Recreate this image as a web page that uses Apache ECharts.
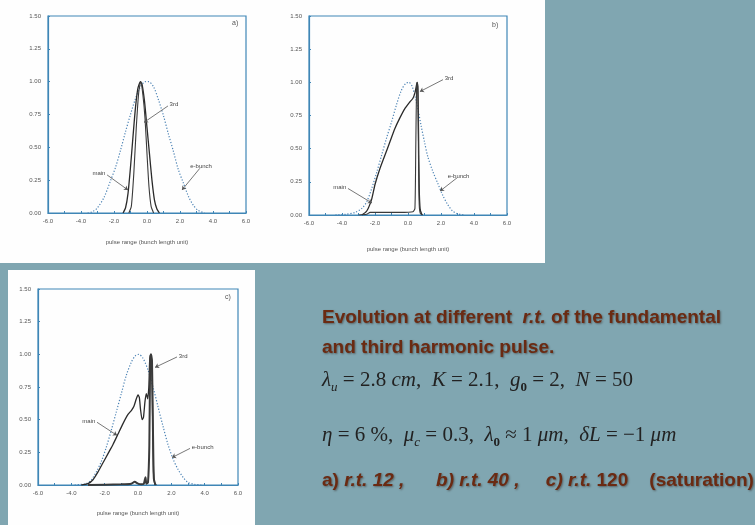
<!DOCTYPE html>
<html>
<head>
<meta charset="utf-8">
<script src="https://cdn.jsdelivr.net/npm/echarts@6.0.0/dist/echarts.min.js"></script>
<style>
  html, body { margin: 0; padding: 0; background: #80a6b1; }
  #chart { width: 755px; height: 525px; }
</style>
</head>
<body>
<div id="chart"></div>
<script>
// tick labels
const xTickLabels = ['-6.0', '-4.0', '-2.0', '0.0', '2.0', '4.0', '6.0']
const yTickLabels = ['0.00', '0.25', '0.50', '0.75', '1.00', '1.25', '1.50']

// a) r.t. 12  -- [pulse range, intensity]
const aBunch = [[-3.6, 0], [-3.3, 0.01], [-3.0, 0.04], [-2.6, 0.12], [-2.2, 0.25], [-1.9, 0.35], [-1.6, 0.48], [-1.3, 0.62], [-1.0, 0.75], [-0.7, 0.87], [-0.4, 0.96], [-0.1, 1.0], [0.1, 1.0], [0.4, 0.96], [0.7, 0.86], [1.0, 0.74], [1.3, 0.6], [1.6, 0.47], [1.9, 0.33], [2.2, 0.23], [2.5, 0.13], [2.8, 0.06], [3.1, 0.02], [3.5, 0]]
const aMain = [[-1.45, 0], [-1.3, 0.04], [-1.15, 0.15], [-1.0, 0.35], [-0.85, 0.58], [-0.7, 0.8], [-0.55, 0.95], [-0.4, 1.0], [-0.3, 0.98], [-0.15, 0.85], [0.0, 0.65], [0.15, 0.45], [0.3, 0.25], [0.45, 0.1], [0.6, 0.03], [0.75, 0]]
const aThird = [[-1.1, 0], [-0.95, 0.05], [-0.8, 0.3], [-0.65, 0.65], [-0.5, 0.92], [-0.38, 1.0], [-0.25, 0.9], [-0.12, 0.72], [0.0, 0.45], [0.12, 0.2], [0.25, 0.05], [0.4, 0]]

// b) r.t. 40
const bBunch = [[-4.4, 0], [-3.8, 0.005], [-3.2, 0.02], [-2.8, 0.05], [-2.5, 0.1], [-2.2, 0.2], [-1.9, 0.32], [-1.6, 0.45], [-1.3, 0.58], [-1.0, 0.7], [-0.7, 0.83], [-0.4, 0.94], [-0.15, 0.99], [0.05, 1.0], [0.25, 0.97], [0.45, 0.88], [0.6, 0.8], [0.8, 0.67], [1.0, 0.55], [1.2, 0.44], [1.5, 0.33], [1.8, 0.24], [2.1, 0.15], [2.4, 0.08], [2.7, 0.03], [3.0, 0.01], [3.4, 0]]
const bMain = [[-2.8, 0], [-2.5, 0.03], [-2.2, 0.12], [-2.0, 0.23], [-1.7, 0.35], [-1.4, 0.45], [-1.1, 0.55], [-0.8, 0.65], [-0.5, 0.73], [-0.2, 0.8], [0.1, 0.85], [0.3, 0.88], [0.42, 0.92], [0.5, 0.97], [0.55, 1.0], [0.6, 0.97], [0.64, 0.6], [0.68, 0.2], [0.74, 0.04], [0.85, 0]]
const bThird = [[-3.0, 0], [-2.5, 0.005], [-2.3, 0.02], [-1.5, 0.02], [-0.5, 0.02], [0.3, 0.025], [0.42, 0.05], [0.47, 0.5], [0.52, 0.97], [0.56, 1.0], [0.6, 0.9], [0.64, 0.4], [0.68, 0.08], [0.75, 0.01], [0.9, 0]]

// c) r.t. 120 (saturation)
const cBunch = [[-3.8, 0], [-3.4, 0.005], [-3.1, 0.01], [-2.8, 0.04], [-2.5, 0.1], [-2.2, 0.18], [-1.9, 0.29], [-1.6, 0.42], [-1.3, 0.56], [-1.0, 0.7], [-0.7, 0.84], [-0.4, 0.94], [-0.15, 0.99], [0.05, 1.0], [0.3, 0.97], [0.6, 0.88], [0.9, 0.75], [1.2, 0.6], [1.5, 0.45], [1.8, 0.31], [2.1, 0.2], [2.4, 0.12], [2.7, 0.06], [3.0, 0.02], [3.4, 0.005], [3.8, 0]]
const cMain = [[-3.4, 0], [-3.0, 0.01], [-2.7, 0.04], [-2.4, 0.1], [-2.1, 0.17], [-1.8, 0.24], [-1.5, 0.31], [-1.2, 0.39], [-0.9, 0.47], [-0.6, 0.54], [-0.4, 0.57], [-0.25, 0.6], [-0.1, 0.66], [0.0, 0.69], [0.08, 0.67], [0.15, 0.58], [0.25, 0.5], [0.33, 0.52], [0.42, 0.64], [0.5, 0.7], [0.58, 0.66], [0.65, 0.75], [0.7, 0.95], [0.76, 1.0], [0.82, 0.95], [0.88, 0.5], [0.93, 0.1], [1.0, 0.01], [1.1, 0]]
const cThird = [[-3.0, 0], [-1.0, 0.005], [-0.4, 0.01], [-0.2, 0.025], [0.0, 0.01], [0.2, 0.005], [0.35, 0.01], [0.45, 0.06], [0.5, 0.01], [0.6, 0.02], [0.68, 0.3], [0.73, 0.95], [0.78, 1.0], [0.84, 0.95], [0.9, 0.4], [0.95, 0.05], [1.05, 0]]

const frameColor = '#3f86b6'
const tickFont = '"Liberation Sans", Arial, sans-serif'

// 三个小图的位置
const grids = [
  { left: 48, top: 16, width: 198, height: 197 },
  { left: 309, top: 16, width: 198, height: 199 },
  { left: 38, top: 289, width: 200, height: 196 }
]
const nameGaps = [26, 31, 25]

// 注释：文字 + 箭头（数据坐标）
const notes = [
  { main: [[-2.42, 0.29], [-1.15, 0.175]], third: [[1.27, 0.815], [-0.18, 0.69]], bunch: [[3.2, 0.34], [2.12, 0.175]] },
  { main: [[-3.64, 0.2], [-2.18, 0.09]], third: [[2.12, 1.02], [0.72, 0.93]], bunch: [[2.97, 0.28], [1.94, 0.18]] },
  { main: [[-2.46, 0.48], [-1.26, 0.38]], third: [[2.34, 0.98], [1.02, 0.9]], bunch: [[3.12, 0.28], [2.04, 0.21]] }
]

const curves = [
  { bunch: aBunch, main: aMain, third: aThird },
  { bunch: bBunch, main: bMain, third: bThird },
  { bunch: cBunch, main: cMain, third: cThird }
]

function arrow (pair, text) {
  return {
    silent: true,
    animation: false,
    symbol: ['none', 'arrow'],
    symbolSize: 4,
    lineStyle: { color: '#555', width: 0.8, type: 'solid' },
    label: { show: true, position: 'start', distance: 2, formatter: text, fontSize: 6, color: '#444', fontFamily: tickFont },
    emphasis: { disabled: true },
    data: [[{ coord: pair[0] }, { coord: pair[1] }]]
  }
}

const xAxes = grids.map((g, i) => ({
  type: 'value', gridIndex: i, min: -6, max: 6, interval: 2,
  name: 'pulse range (bunch length unit)', nameLocation: 'middle', nameGap: nameGaps[i],
  nameTextStyle: { fontSize: 6, color: '#555', fontFamily: tickFont },
  axisLine: { onZero: false, lineStyle: { color: frameColor, width: 1.2 } },
  axisTick: { inside: true, length: 2, lineStyle: { color: frameColor } },
  minorTick: { show: true, splitNumber: 2, length: 2, lineStyle: { color: frameColor } },
  splitLine: { show: false },
  axisLabel: { fontSize: 6, color: '#555', margin: 5, fontFamily: tickFont, formatter: v => xTickLabels[Math.round((v + 6) / 2)] }
}))

const yAxes = grids.map((g, i) => ({
  type: 'value', gridIndex: i, min: 0, max: 1.5, interval: 0.25,
  axisLine: { show: true, onZero: false, lineStyle: { color: frameColor, width: 1.2 } },
  axisTick: { show: true, inside: true, length: 2, lineStyle: { color: frameColor } },
  splitLine: { show: false },
  axisLabel: { fontSize: 6, color: '#555', margin: 7, fontFamily: tickFont, formatter: v => yTickLabels[Math.round(v / 0.25)] }
}))

const series = []
curves.forEach((c, i) => {
  series.push({
    name: 'e-bunch', type: 'line', xAxisIndex: i, yAxisIndex: i, data: c.bunch,
    smooth: 0.3, showSymbol: false, lineStyle: { color: '#4b82b4', width: 1.2, type: [1.2, 1.8] },
    markLine: arrow(notes[i].bunch, 'e-bunch')
  })
  series.push({
    name: 'main', type: 'line', xAxisIndex: i, yAxisIndex: i, data: c.main,
    smooth: 0.2, showSymbol: false, lineStyle: { color: '#2a2a2a', width: 1.3 },
    markLine: arrow(notes[i].main, 'main')
  })
  series.push({
    name: '3rd', type: 'line', xAxisIndex: i, yAxisIndex: i, data: c.third,
    smooth: 0.2, showSymbol: false, lineStyle: { color: '#3a3a3a', width: i === 2 ? 2 : 1.1 },
    markLine: arrow(notes[i].third, '3rd')
  })
})

const brown = '#6a2a12'
const shadow = { textShadowColor: 'rgba(40,20,10,0.45)', textShadowBlur: 2, textShadowOffsetX: 1, textShadowOffsetY: 1 }
const sans = '"Liberation Sans", Arial, sans-serif'
const serif = '"Liberation Serif", "DejaVu Serif", serif'

const headRich = {
  b: { font: 'bold 19px ' + sans, fill: brown, ...shadow },
  i: { font: 'italic bold 19px ' + sans, fill: brown, ...shadow }
}
const mathRich = {
  n: { font: '21px ' + serif, fill: '#222', lineHeight: 28, verticalAlign: 'middle' },
  v: { font: 'italic 21px ' + serif, fill: '#222', lineHeight: 28, verticalAlign: 'middle' },
  s: { font: 'italic 13px ' + serif, fill: '#222', lineHeight: 15, verticalAlign: 'bottom' },
  s0: { font: 'bold 13px ' + serif, fill: '#222', lineHeight: 15, verticalAlign: 'bottom' }
}

const option = {
  backgroundColor: '#80a6b1',
  animation: false,
  grid: grids.map(g => ({ ...g, show: true, borderColor: frameColor, borderWidth: 1.2, backgroundColor: 'transparent' })),
  xAxis: xAxes,
  yAxis: yAxes,
  series: series,
  graphic: [
    { type: 'rect', z: -10, shape: { x: 0, y: 0, width: 545, height: 263 }, style: { fill: '#fefefe' } },
    { type: 'rect', z: -10, shape: { x: 8, y: 270, width: 247, height: 255 }, style: { fill: '#fefefe' } },
    { type: 'text', left: 232, top: 20, style: { text: 'a)', font: '7px ' + sans, fill: '#555' } },
    { type: 'text', left: 492, top: 22, style: { text: 'b)', font: '7px ' + sans, fill: '#555' } },
    { type: 'text', left: 225, top: 294, style: { text: 'c)', font: '7px ' + sans, fill: '#555' } },
    {
      type: 'text', left: 322, top: 303,
      style: { text: '{b|Evolution at different  }{i|r.t.}{b| of the fundamental}\n{b|and third harmonic pulse.}', rich: headRich, lineHeight: 30 }
    },
    {
      type: 'text', left: 322, top: 370,
      style: {
        text: '{v|λ}{s|u}{n| = 2.8 }{v|cm}{n|,  }{v|K}{n| = 2.1,  }{v|g}{s0|0}{n| = 2,  }{v|N}{n| = 50}',
        rich: mathRich
      }
    },
    {
      type: 'text', left: 322, top: 425,
      style: {
        text: '{v|η}{n| = 6 %,  }{v|μ}{s|c}{n| = 0.3,  }{v|λ}{s0|0}{n| ≈ 1 }{v|μm}{n|,  }{v|δL}{n| = −1 }{v|μm}',
        rich: mathRich
      }
    },
    {
      type: 'text', left: 322, top: 471,
      style: { text: '{b|a) }{i|r.t. 12 ,      b) r.t. 40 ,     c) r.t.}{b| 120    (saturation)}', rich: headRich }
    }
  ]
}

const chart = echarts.init(document.getElementById('chart'))
chart.setOption(option)
</script>
</body>
</html>
